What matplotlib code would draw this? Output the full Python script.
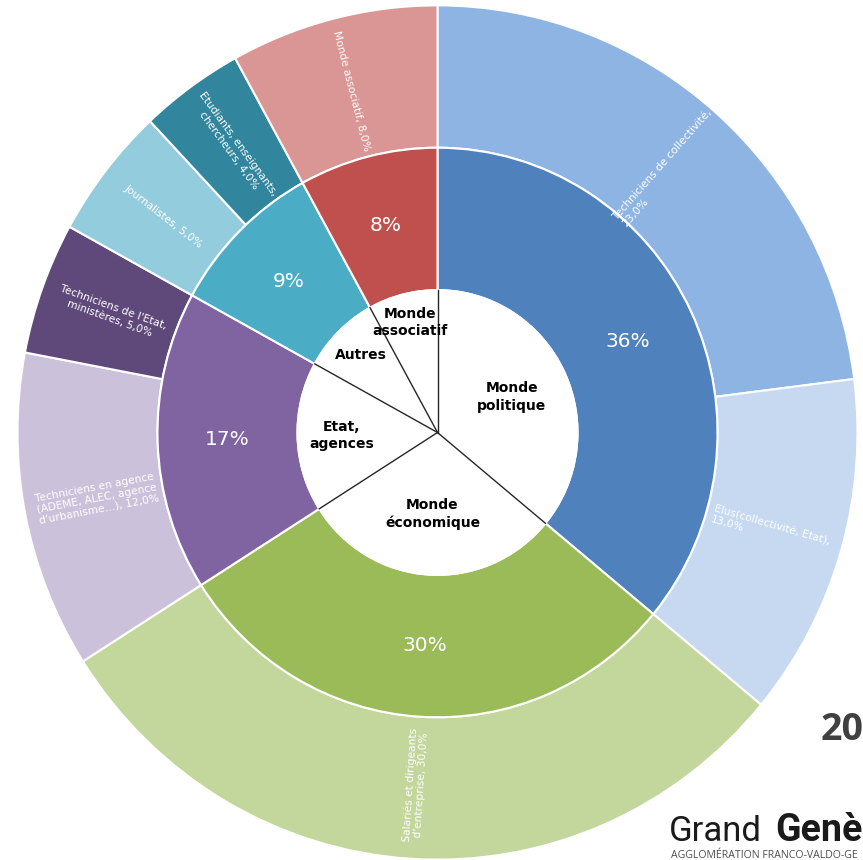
import numpy as np
import matplotlib
matplotlib.use('Agg')
import matplotlib.pyplot as plt

# categories (inner ring) and their share
groups = ['Monde\npolitique', 'Monde\néconomique', 'Etat,\nagences', 'Autres', 'Monde\nassociatif']
group_vals = [36, 30, 17, 9, 8]
group_colors = ['#4F81BD', '#9BBB59', '#8064A2', '#4BACC6', '#C0504D']

# sub categories (outer ring)
subs = ['Techniciens de collectivité,\n23,0%',
        'Elus(collectivité, Etat),\n13,0%',
        'Salariés et dirigeants\nd\'entreprise, 30,0%',
        'Techniciens en agence\n(ADEME, ALEC, agence\nd\'urbanisme…), 12,0%',
        'Techniciens de l\'Etat,\nministères, 5,0%',
        'Journalistes, 5,0%',
        'Etudiants, enseignants,\nchercheurs, 4,0%',
        'Monde associatif, 8,0%']
sub_vals = [23, 13, 30, 12, 5, 5, 4, 8]
sub_colors = ['#8EB4E3', '#C6D9F1', '#C3D69B', '#CCC1DA', '#5F497A',
              '#93CDDD', '#31859C', '#D99694']
sub_align = ['left', 'left', 'center', 'center', 'center', 'center', 'center', 'center']

# label radius for the inner names (layout)
inner_r = [82, 80, 96, 108, 112]

W, H = 863, 860
s = 1.017  # the original picture is a little taller than wide


def py(y):
    # pixel row (from top) -> data y
    return (H - y) / s


cx, cy = 437.5, py(432.5)
r0, r1, r2 = 140, 280, 420

fig = plt.figure(figsize=(W / 100, H / 100), dpi=100)
ax = fig.add_axes([0, 0, 1, 1])

ax.pie(sub_vals, colors=sub_colors, radius=r2, center=(cx, cy), startangle=90,
       counterclock=False, wedgeprops=dict(width=r2 - r1, edgecolor='white', linewidth=1.5))
ax.pie(group_vals, colors=group_colors, radius=r1, center=(cx, cy), startangle=90,
       counterclock=False, wedgeprops=dict(width=r1 - r0, edgecolor='white', linewidth=1.5))
ax.pie([1], colors=['white'], radius=r0, center=(cx, cy),
       wedgeprops=dict(edgecolor='white', linewidth=1.5))


def angles(vals):
    tot = float(sum(vals))
    c = np.concatenate([[0], np.cumsum(vals)]) / tot
    start = 90 - c[:-1] * 360
    end = 90 - c[1:] * 360
    return start, end, (start + end) / 2


def rot_for(a):
    a = (a + 180) % 360 - 180
    if np.cos(np.radians(a)) >= 0:
        return a
    return a + 180 if a < 0 else a - 180


# divider lines in the centre
gs, ge, gm = angles(group_vals)
for a in gs:
    t = np.radians(a)
    ax.plot([cx, cx + r0 * np.cos(t)], [cy, cy + r0 * np.sin(t)], color='#262626', lw=1.0, zorder=5)

for name, a, r in zip(groups, gm, inner_r):
    t = np.radians(a)
    ax.text(cx + r * np.cos(t), cy + r * np.sin(t), name, ha='center', va='center',
            fontsize=10, fontweight='bold', color='black', linespacing=1.3, zorder=6)

rm = (r0 + r1) / 2
for v, a in zip(group_vals, gm):
    t = np.radians(a)
    ax.text(cx + rm * np.cos(t), cy + rm * np.sin(t), f'{v}%', ha='center', va='center',
            fontsize=14.5, color='white', zorder=6)

ss, se, sm = angles(sub_vals)
ro = (r1 + r2) / 2 - 3
for lab, a, al in zip(subs, sm, sub_align):
    t = np.radians(a)
    ax.text(cx + ro * np.cos(t), cy + ro * np.sin(t), lab, ha='center', va='center',
            rotation=rot_for(a), rotation_mode='anchor', multialignment=al,
            fontsize=7.7, color='white', linespacing=1.15, zorder=6)

# cropped title and logo on the right
ax.text(821, py(730), '20', fontsize=27, fontweight='bold', color='#404040',
        family='Open Sans', ha='left', va='center')
ax.text(669, py(841), 'Grand', fontsize=25, color='#1a1a1a', family='Roboto',
        ha='left', va='baseline')
ax.text(775, py(841), 'Genè', fontsize=27, fontweight='bold', color='#1a1a1a',
        family='Roboto', ha='left', va='baseline')
ax.text(671, py(858), 'AGGLOMÉRATION FRANCO-VALDO-GE', fontsize=7.6, color='#4d4d4d',
        family='Open Sans', ha='left', va='baseline')

ax.set_xlim(0, W)
ax.set_ylim(0, H / s)
ax.set_aspect('auto')
ax.axis('off')

fig.savefig('out.png', dpi=100, facecolor='white')
